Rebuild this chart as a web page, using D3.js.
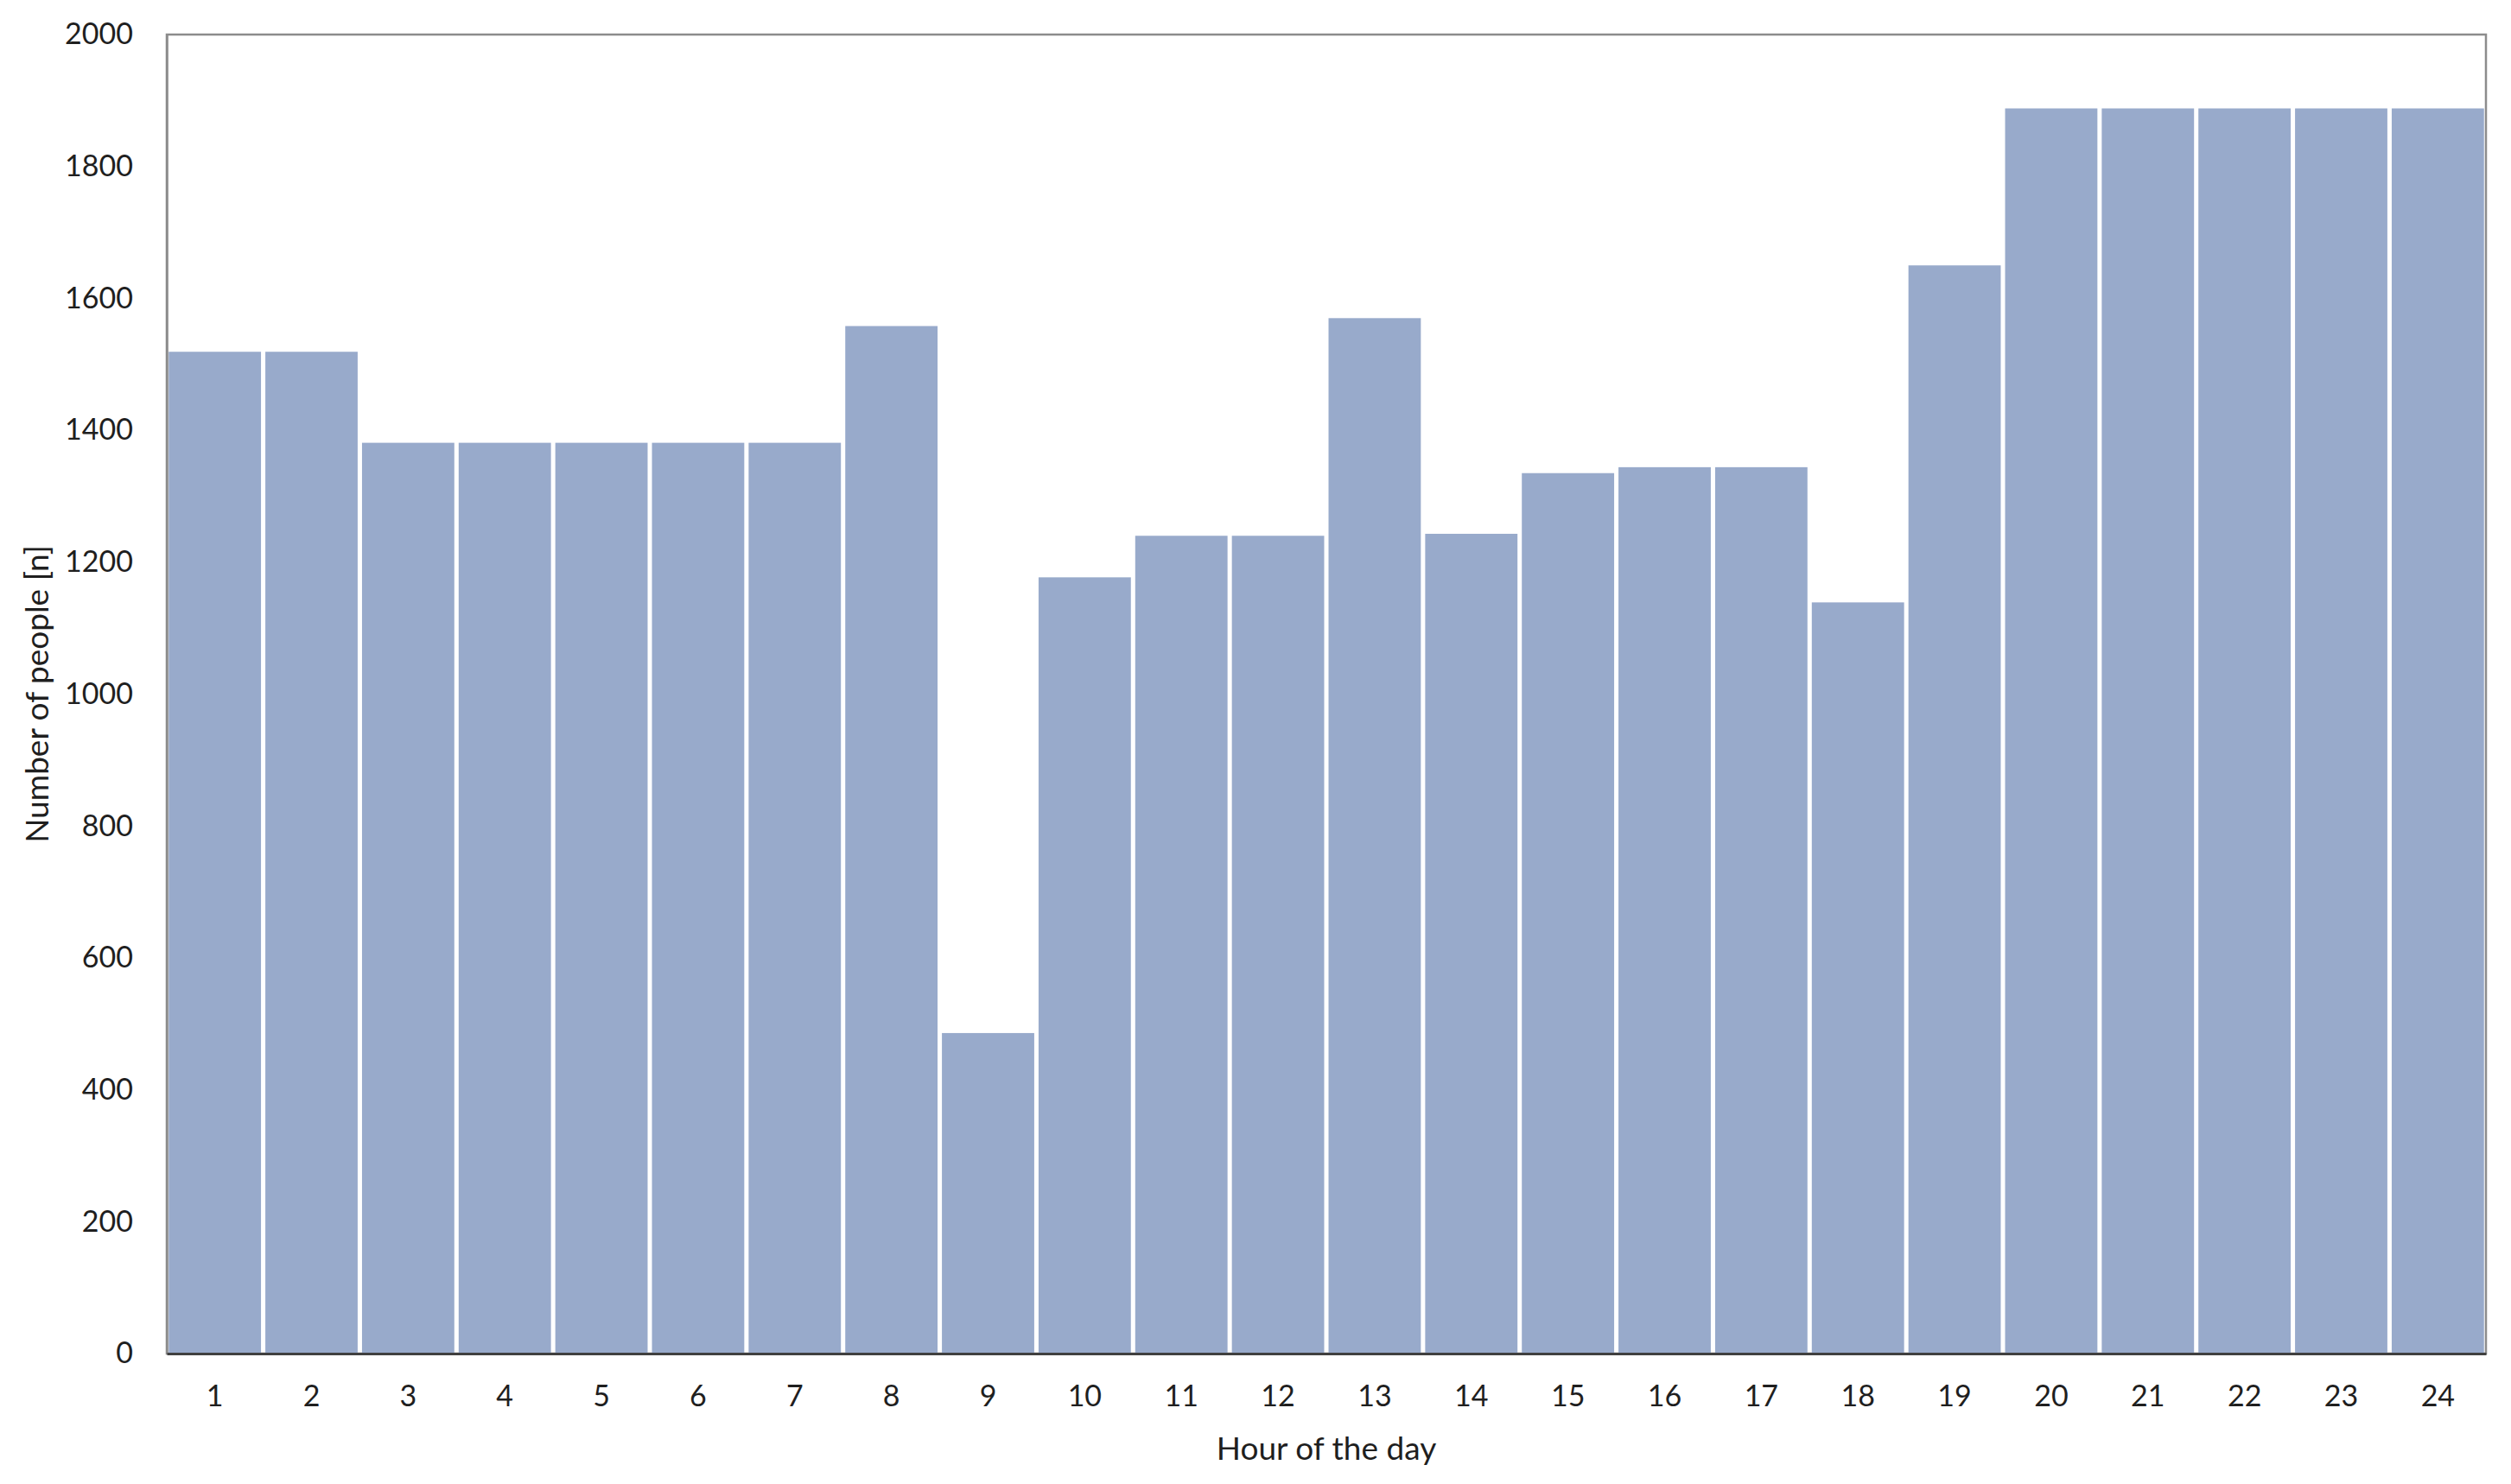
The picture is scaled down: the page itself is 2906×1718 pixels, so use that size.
<!DOCTYPE html>
<html>
<head>
<style>
  body { margin: 0; background: #fff; overflow: hidden; }
  .tick text { font: 34px Lato, "Open Sans", sans-serif; fill: #1f1f1f; }
  .title { font: 37px Lato, "Open Sans", sans-serif; fill: #1f1f1f; }
</style>
<script src="https://d3js.org/d3.v7.min.js"></script>
</head>
<body>
<svg width="2906" height="1718"></svg>
<script>
// hours on the x axis
var hours = ["1","2","3","4","5","6","7","8","9","10","11","12","13","14","15","16","17","18","19","20","21","22","23","24"];
// people counted per hour
var people = [1519, 1519, 1381, 1381, 1381, 1381, 1381, 1558, 486, 1177, 1240, 1240, 1570, 1243, 1335, 1344, 1344, 1139, 1650, 1888, 1888, 1888, 1888, 1888];
var yTicks = [0, 200, 400, 600, 800, 1000, 1200, 1400, 1600, 1800, 2000];

var svg = d3.select("svg");
var margin = {left: 193, right: 29, top: 40, bottom: 151};
var width = 2906 - margin.left - margin.right,
    height = 1718 - margin.top - margin.bottom;

var g = svg.append("g")
    .attr("transform", "translate(" + margin.left + "," + margin.top + ")");

var x = d3.scaleBand().domain(hours).range([0, width])
    .paddingInner(0.045).paddingOuter(0.02);
var y = d3.scaleLinear().domain([0, 2000]).range([height, 0]);

// plot frame
g.append("rect")
    .attr("x", 0).attr("y", 0)
    .attr("width", width).attr("height", height)
    .attr("fill", "none").attr("stroke", "#8c8c8c").attr("stroke-width", 2.5);

g.selectAll(".bar")
    .data(people)
    .enter().append("rect")
    .attr("class", "bar")
    .attr("x", function(d, i) { return x(hours[i]); })
    .attr("y", function(d) { return y(d); })
    .attr("width", x.bandwidth())
    .attr("height", function(d) { return height - y(d); })
    .attr("fill", "#98aacb");

var yAxis = g.append("g")
    .call(d3.axisLeft(y).tickValues(yTicks).tickFormat(d3.format("d")).tickSize(0).tickPadding(39));
yAxis.select(".domain").attr("stroke", "#8c8c8c").attr("stroke-width", 2.5);

var xAxis = g.append("g")
    .attr("transform", "translate(0," + height + ")")
    .call(d3.axisBottom(x).tickSize(0).tickPadding(37));
xAxis.select(".domain").attr("stroke", "#404040").attr("stroke-width", 3);

g.append("text")
    .attr("class", "title")
    .attr("x", width / 2)
    .attr("y", height + 123)
    .attr("text-anchor", "middle")
    .text("Hour of the day");

g.append("text")
    .attr("class", "title")
    .attr("transform", "translate(" + (56 - margin.left) + "," + height / 2 + ") rotate(-90)")
    .attr("text-anchor", "middle")
    .text("Number of people [n]");
</script>
</body>
</html>
